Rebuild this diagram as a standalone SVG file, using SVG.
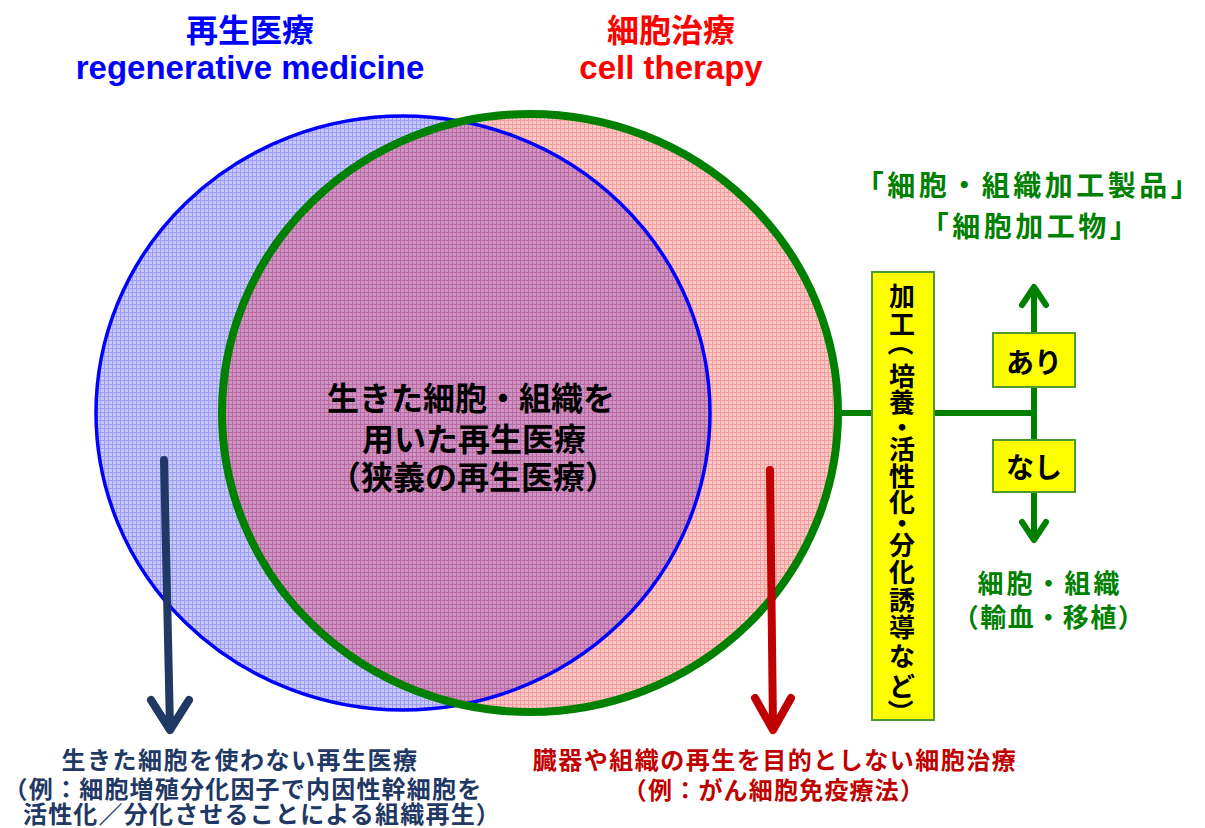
<svg xmlns="http://www.w3.org/2000/svg" width="1205" height="828" viewBox="0 0 1205 828">
<style>
.jp{font-family:"Noto Sans CJK JP","Noto Sans CJK SC",sans-serif;font-weight:bold;dominant-baseline:central;text-anchor:middle}
.en{font-family:"Liberation Sans",Arial,sans-serif;font-weight:bold;text-anchor:middle;font-size:33px}
.blue{fill:#0000ff}.red{fill:#ff0000}.grn{fill:#008000}.blk{fill:#000}
.navy{fill:#1f3864}.dred{fill:#c00000}
.vt{font-size:26px;fill:#000}
.ybox{fill:#ffff00;stroke:#4e9a2a;stroke-width:2}
.gline{stroke:#008000;stroke-width:6;fill:none}
</style>
<defs>
<pattern id="pb" width="4" height="4" patternUnits="userSpaceOnUse">
<rect width="4" height="4" fill="#c8c8fa"/>
<path d="M0 0.5H4M0.5 0V4" stroke="#9c9cf2" stroke-width="1"/>
</pattern>
<pattern id="pr" width="4" height="4" patternUnits="userSpaceOnUse">
<rect width="4" height="4" fill="#fbc8c8"/>
<path d="M0 0.5H4M0.5 0V4" stroke="#f29c9c" stroke-width="1"/>
</pattern>
<pattern id="pp" width="4" height="4" patternUnits="userSpaceOnUse">
<rect width="4" height="4" fill="#cf94c6"/>
<path d="M0 0.5H4M0.5 0V4" stroke="#bb6aa2" stroke-width="1"/>
</pattern>
<clipPath id="cb"><ellipse cx="403" cy="413" rx="307" ry="297"/></clipPath>
</defs>

<g id="venn">
<g id="regen-circle"><ellipse cx="403" cy="413" rx="307" ry="297" fill="url(#pb)"/></g>
<g id="cell-circle"><ellipse cx="530" cy="413" rx="308" ry="299" fill="url(#pr)"/></g>
<g id="overlap"><ellipse cx="530" cy="413" rx="308" ry="299" fill="url(#pp)" clip-path="url(#cb)"/></g>
<ellipse cx="403" cy="413" rx="307" ry="297" fill="none" stroke="#0000ff" stroke-width="3.5"/>
<ellipse cx="530" cy="413" rx="308" ry="299" fill="none" stroke="#008000" stroke-width="8"/>
</g>

<g id="titles">
<text class="jp blue" x="250" y="28" font-size="32">再生医療</text>
<text class="en blue" x="250" y="79">regenerative medicine</text>
<text class="jp red" x="671" y="28" font-size="32">細胞治療</text>
<text class="en red" x="671" y="79">cell therapy</text>
</g>

<g id="center-label">
<text class="jp blk" x="471" y="396" font-size="32">生きた細胞・組織を</text>
<text class="jp blk" x="474" y="437" font-size="32">用いた再生医療</text>
<text class="jp blk" x="473" y="475" font-size="32">（狭義の再生医療）</text>
</g>

<g id="connectors">
<path class="gline" d="M838 413H872M934 413H1034M1034 287V540"/>
<path class="gline" d="M1022 305L1034 287L1046 305M1022 522L1034 540L1046 522" stroke-linecap="round" stroke-linejoin="round"/>
<path d="M164 460L170 728M151 700L170 730L189 700" fill="none" stroke="#1f3864" stroke-width="8" stroke-linecap="round" stroke-linejoin="round"/>
<path d="M770 470L773 728M755 698L773 730L791 698" fill="none" stroke="#c00000" stroke-width="8" stroke-linecap="round" stroke-linejoin="round"/>
</g>

<g id="process-box">
<rect class="ybox" x="872" y="272" width="62" height="448"/>
<text class="jp vt"><tspan x="902" y="294">加</tspan><tspan x="902" y="322">工</tspan><tspan x="902" y="374">培</tspan><tspan x="902" y="400">養</tspan><tspan x="902" y="425">・</tspan><tspan x="902" y="447">活</tspan><tspan x="902" y="474">性</tspan><tspan x="902" y="500">化</tspan><tspan x="902" y="521">・</tspan><tspan x="902" y="543">分</tspan><tspan x="902" y="570">化</tspan><tspan x="902" y="598">誘</tspan><tspan x="902" y="625">導</tspan><tspan x="902" y="654">な</tspan><tspan x="902" y="684">ど</tspan></text>
<text class="jp vt" x="902" y="350" transform="rotate(90 902 350)" dx="-7">（</text>
<text class="jp vt" x="902" y="705" transform="rotate(90 902 705)" dx="7">）</text>
</g>

<g id="ari">
<rect class="ybox" x="993" y="333" width="82" height="54"/>
<text class="jp blk" x="1034" y="361" font-size="28">あり</text>
</g>
<g id="nashi">
<rect class="ybox" x="993" y="440" width="82" height="52"/>
<text class="jp blk" x="1034" y="466" font-size="28">なし</text>
</g>

<g id="product-label">
<text class="jp grn" x="1029" y="184" font-size="28" letter-spacing="3.5">「細胞・組織加工製品」</text>
<text class="jp grn" x="1031" y="225" font-size="28" letter-spacing="3.5">「細胞加工物」</text>
</g>
<g id="tissue-label">
<text class="jp grn" x="1050" y="581" font-size="26" letter-spacing="3">細胞・組織</text>
<text class="jp grn" x="1049" y="615" font-size="26" letter-spacing="1.5">（輸血・移植）</text>
</g>

<g id="left-note">
<text class="jp navy" x="240" y="758" font-size="24" letter-spacing="1.5">生きた細胞を使わない再生医療</text>
<text class="jp navy" x="243" y="787" font-size="24" letter-spacing="1.2">（例：細胞増殖分化因子で内因性幹細胞を</text>
<text class="jp navy" x="262" y="812" font-size="24" letter-spacing="1.2">活性化／分化させることによる組織再生）</text>
</g>
<g id="right-note">
<text class="jp dred" x="775" y="758" font-size="24" letter-spacing="1.5">臓器や組織の再生を目的としない細胞治療</text>
<text class="jp dred" x="774" y="788" font-size="24" letter-spacing="1.2">（例：がん細胞免疫療法）</text>
</g>
</svg>
